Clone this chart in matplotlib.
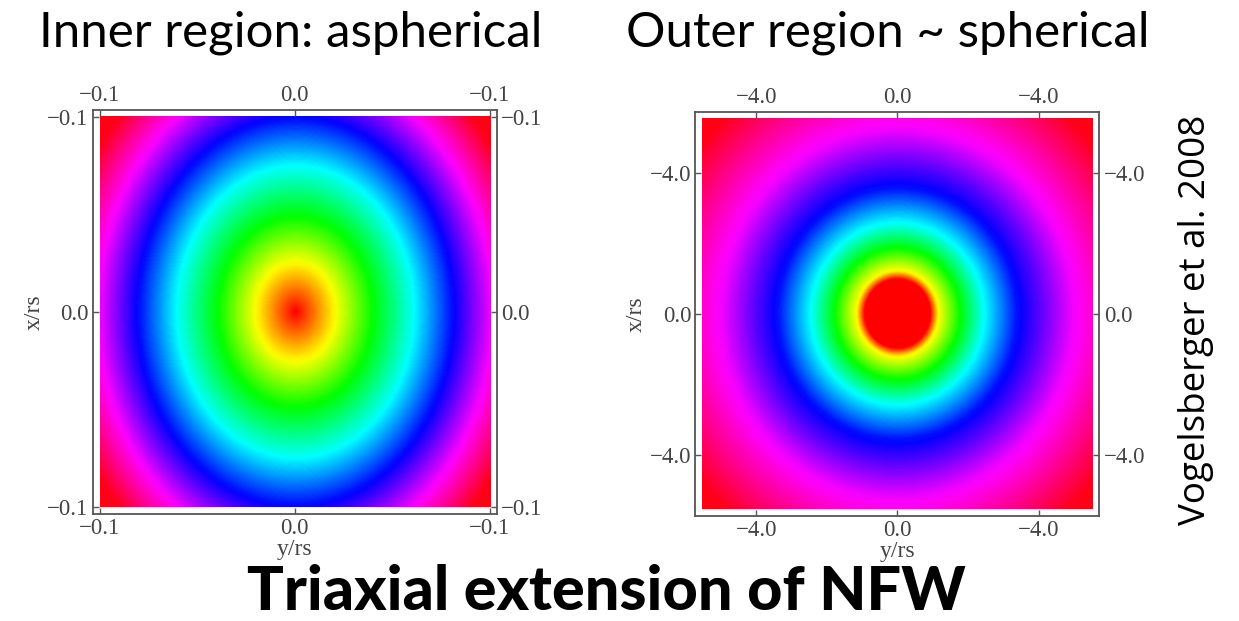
import numpy as np
import matplotlib
matplotlib.use("Agg")
import matplotlib.pyplot as plt

# hue levels (fraction of the colour wheel) and where each ring sits
ring_hue = [0, 1/6, 2/6, 3/6, 4/6, 5/6, 1]

# inner region: radius along y/rs, ellipses stretched along x/rs
inner_ring_radius = [0.0, 0.020, 0.039, 0.060, 0.080, 0.100, 0.122]
inner_axis_ratio = 1.23
inner_extent = 0.1
inner_ticks = [-0.1, 0.0, 0.1]
inner_ticklabels = ["\u22120.1", "0.0", "\u22120.1"]

# outer region: nearly round, saturated red core
outer_ring_radius = [0.93, 1.15, 1.75, 2.42, 3.38, 4.93, 7.2]
outer_axis_ratio = 1.05
outer_extent = 5.52
outer_ticks = [-4.0, 0.0, 4.0]
outer_ticklabels = ["\u22124.0", "0.0", "\u22124.0"]

titles = ["Inner region: aspherical", "Outer region ~ spherical"]


def hue_map(extent, radii, ratio, n=400):
    g = np.linspace(-extent, extent, n)
    yy, xx = np.meshgrid(g, g)  # rows -> x/rs (vertical), cols -> y/rs
    r = np.sqrt(yy**2 + (xx / ratio)**2)
    return np.interp(r, radii, ring_hue)


fig = plt.figure(figsize=(12.39, 6.21), dpi=100)
serif = "Liberation Serif"
tick_col = "#444444"

panels = [
    ([0.0743, 0.1723, 0.3269, 0.6506], inner_extent, inner_ring_radius, inner_axis_ratio, inner_ticks, inner_ticklabels),
    ([0.5609, 0.1690, 0.3269, 0.6506], outer_extent, outer_ring_radius, outer_axis_ratio, outer_ticks, outer_ticklabels),
]

for pos, ext, radii, ratio, ticks, labels in panels:
    ax = fig.add_axes(pos)
    h = hue_map(ext, radii, ratio)
    ax.imshow(h, cmap="hsv", vmin=0, vmax=1, extent=[-ext, ext, -ext, ext],
              origin="lower", interpolation="bilinear")
    lim = ext * 203 / 196
    ax.set_xlim(-lim, lim)
    ax.set_ylim(-lim, lim)
    ax.set_xticks(ticks)
    ax.set_yticks(ticks)
    ax.set_xticklabels(labels)
    ax.set_yticklabels(labels)
    ax.tick_params(direction="in", top=True, right=True, labeltop=True, labelright=True,
                   length=4, width=1, color="#555555", labelcolor=tick_col, labelsize=16.5, pad=3)
    for lab in ax.get_xticklabels() + ax.get_yticklabels():
        lab.set_family(serif)
    for sp in ax.spines.values():
        sp.set_color("#555555")
        sp.set_linewidth(1.3)
    ax.set_xlabel("y/rs", family=serif, fontsize=17, color=tick_col, labelpad=0)
    ax.set_ylabel("x/rs", family=serif, fontsize=17, color=tick_col, labelpad=2)

fig.text(291 / 1239, 1 - 33 / 621, titles[0], ha="center", va="center",
         family="Lato", fontsize=35.5)
fig.text(888 / 1239, 1 - 33 / 621, titles[1], ha="center", va="center",
         family="Lato", fontsize=35.5)
fig.text(606 / 1239, 1 - 610 / 621, "Triaxial extension of NFW", ha="center", va="baseline",
         family="Lato", fontweight="black", fontsize=44)
fig.text(1196 / 1239, 1 - 320 / 621, "Vogelsberger et al. 2008", ha="center", va="center",
         rotation=90, family="Open Sans", fontsize=26.5)

fig.savefig("out.png", dpi=100, facecolor="white")
